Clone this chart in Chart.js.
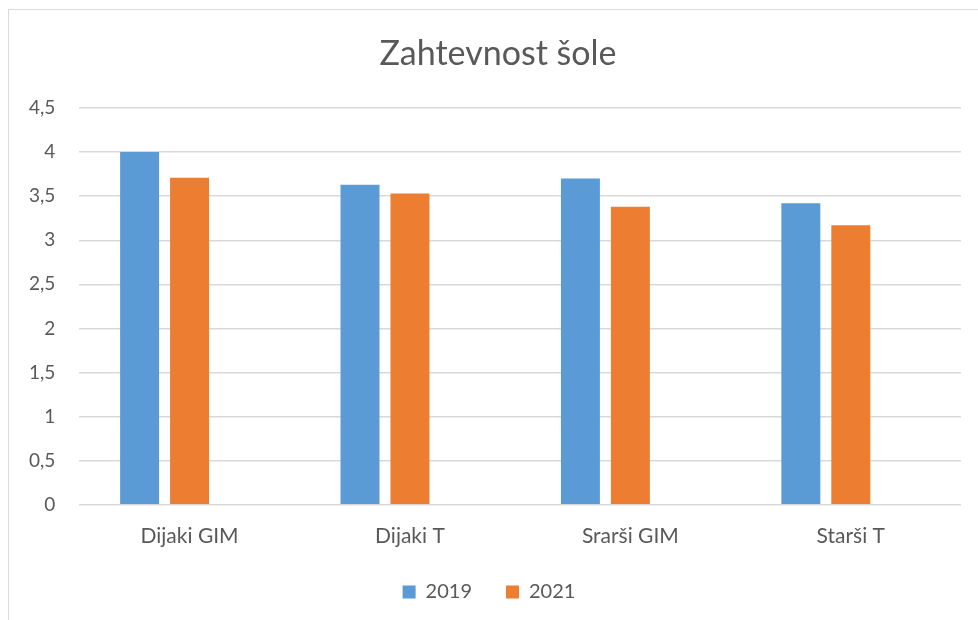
<!DOCTYPE html>
<html>
<head>
<meta charset="utf-8">
<script src="https://cdn.jsdelivr.net/npm/chart.js@4"></script>
<style>
  html, body { margin: 0; padding: 0; background: #ffffff; overflow: hidden; }
  #wrap { position: relative; width: 978px; height: 620px; }
  #frame { position: absolute; left: 8px; top: 9px; width: 1000px; height: 700px; border: 1px solid #d9d9d9; box-sizing: border-box; }
  #cv { position: absolute; left: 0; top: 0; }
</style>
</head>
<body>
<div id="wrap">
  <div id="frame"></div>
  <canvas id="cv" width="978" height="620"></canvas>
</div>
<script>
const chartTitle = 'Zahtevnost šole';
const categories = ['Dijaki GIM', 'Dijaki T', 'Srarši GIM', 'Starši T'];
const seriesLabels = ['2019', '2021'];
const values2019 = [4.0, 3.63, 3.70, 3.42];
const values2021 = [3.71, 3.53, 3.38, 3.17];
const emptySeries = [null, null, null, null];
const yMin = 0, yMax = 4.5, yStep = 0.5;

const FONT = 'Lato, "Noto Sans", sans-serif';
const TXT = '#595959';

// Centre title and legend on the full frame (as in the original), not on the padded area
const shiftBoxes = {
  id: 'shiftBoxes',
  afterLayout(chart) {
    if (chart.titleBlock) { chart.titleBlock.left += 15; chart.titleBlock.right += 15; }
    if (chart.legend) { chart.legend.left += 6; chart.legend.right += 6; }
  }
};

new Chart(document.getElementById('cv'), {
  type: 'bar',
  data: {
    labels: categories,
    datasets: [
      { label: seriesLabels[0], data: values2019, backgroundColor: '#5B9BD5', borderWidth: 0 },
      { label: seriesLabels[1], data: values2021, backgroundColor: '#ED7D31', borderWidth: 0 },
      { label: '', data: emptySeries, backgroundColor: 'rgba(0,0,0,0)', borderWidth: 0 }
    ]
  },
  plugins: [shiftBoxes],
  options: {
    responsive: false,
    animation: false,
    devicePixelRatio: 1,
    layout: { padding: { left: 5, right: 17, top: 0, bottom: 8 } },
    datasets: { bar: { categoryPercentage: 0.68, barPercentage: 0.78 } },
    plugins: {
      title: {
        display: true,
        text: chartTitle,
        color: TXT,
        font: { family: FONT, size: 34, weight: 'normal' },
        padding: { top: 33.5, bottom: 33.7 }
      },
      legend: {
        position: 'bottom',
        labels: {
          color: TXT,
          font: { family: FONT, size: 20 },
          boxWidth: 13,
          boxHeight: 13,
          padding: 34,
          filter: (item) => item.text !== ''
        }
      },
      tooltip: { enabled: false }
    },
    scales: {
      x: {
        grid: { display: false, drawTicks: false },
        border: { display: false },
        ticks: { color: TXT, font: { family: FONT, size: 21 }, padding: 19 },
        afterFit: (s) => { s.height -= 20; }
      },
      y: {
        min: yMin,
        max: yMax,
        grid: { color: '#d9d9d9', lineWidth: 1.5, drawTicks: false },
        border: { display: false },
        ticks: {
          stepSize: yStep,
          color: TXT,
          font: { family: FONT, size: 19 },
          padding: 24,
          callback: (v) => String(v).replace('.', ',')
        }
      }
    }
  }
});
</script>
</body>
</html>
